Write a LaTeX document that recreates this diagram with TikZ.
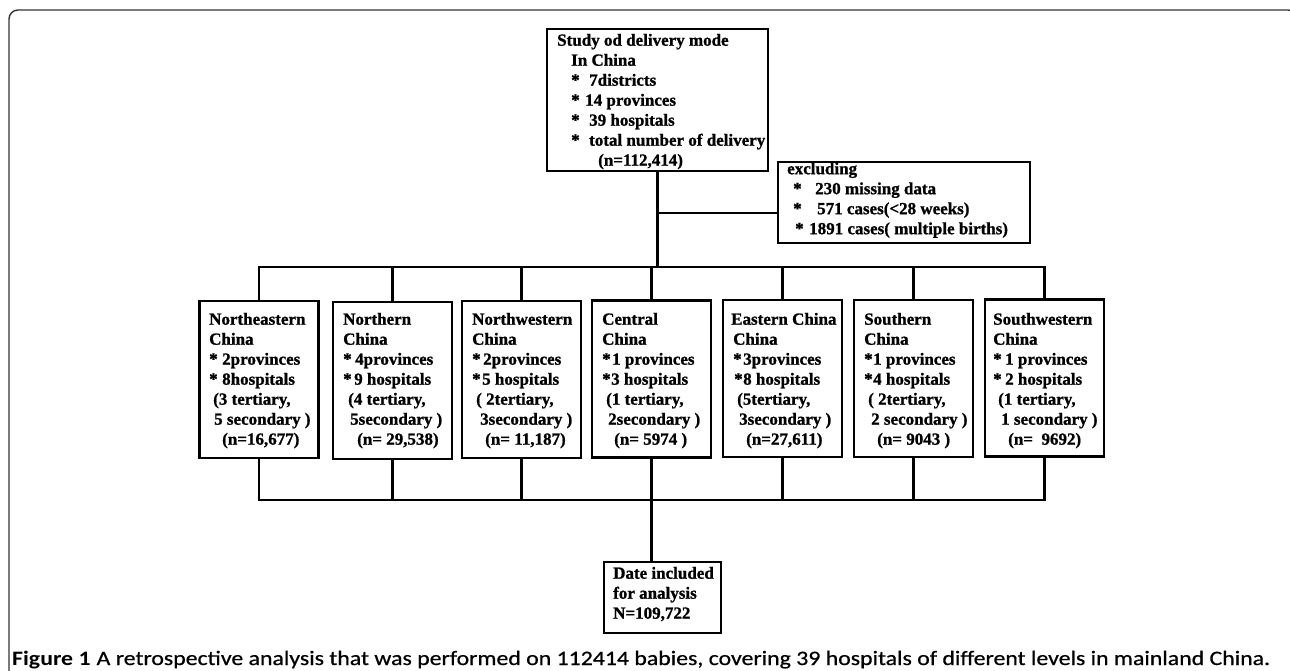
\documentclass[tikz,border=0pt]{standalone}
\usepackage{fontspec}
\setmainfont{Liberation Serif}[BoldFeatures={FakeBold=1}]
\newfontfamily\capfont[FakeBold=0.6]{Carlito}
\newfontfamily\capfontb{Carlito}
\newcommand\st[1]{\makebox[#1pt][l]{*}}
\newcommand\ind[1]{\hspace*{#1pt}}
\newcommand\fl{\rule{0pt}{14pt}}
\begin{document}
\begin{tikzpicture}[x=1pt,y=-1pt,
  bx/.style={draw,line width=2.6pt,inner sep=0pt,anchor=center},
  rbox/.style={bx,minimum width=119pt,minimum height=157pt},
  txt/.style={anchor=north west,align=left,inner sep=0pt,font=\fontsize{17}{20}\selectfont\bfseries},
  ln/.style={line width=2.6pt,line join=miter},
  frame/.style={draw=black!80,line width=1.4pt,rounded corners=9pt}
]
\useasboundingbox (0,0) rectangle (1290,671);
% outer frame
\draw[frame] (9,690) -- (9,10) -- (1297,10) -- (1297,690);

% boxes
\node[bx,minimum width=221pt,minimum height=142pt] (top) at (657.5,100) {};
\node[bx,minimum width=252pt,minimum height=81pt] (excl) at (904,202.5) {};
\node[rbox] (b1) at (259,379.5) {};
\node[rbox] (b2) at (392.5,380.5) {};
\node[rbox] (b3) at (521.5,379.5) {};
\node[rbox] (b4) at (651.5,379) {};
\node[rbox] (b5) at (782.5,378.5) {};
\node[rbox] (b6) at (913.5,378.5) {};
\node[rbox] (b7) at (1044.5,378) {};
\node[bx,minimum width=117pt,minimum height=71pt] (fin) at (662.5,597.5) {};

% texts
\node[txt] (ttop) at (557,31.5) {\fl Study od delivery mode\\
\ind{14}In China\\
\ind{14}\st{18}7districts\\
\ind{14}\st{14}14 provinces\\
\ind{14}\st{18}39 hospitals\\
\ind{14}\st{18}total number of delivery\\
\ind{41}(n=112,414)};

\node[txt] (texcl) at (787,160) {\fl excluding\\
\ind{6}\st{22}230 missing data\\
\ind{6}\st{24}571 cases(<28 weeks)\\
\ind{8}\st{14}1891 cases( multiple births)};

\node[txt] (t1) at (209,310.5) {\fl Northeastern\\China\\
\st{13}2provinces\\
\st{13}8hospitals\\
\ind{4}(3 tertiary,\\
\ind{5}5 secondary )\\
\ind{13}(n=16,677)};

\node[txt] (t2) at (343,310.5) {\fl Northern\\China\\
\st{12}4provinces\\
\st{11}9 hospitals\\
\ind{5}(4 tertiary,\\
\ind{7}5secondary )\\
\ind{14}(n= 29,538)};

\node[txt] (t3) at (472,310.5) {\fl Northwestern\\China\\
\st{11}2provinces\\
\st{10}5 hospitals\\
\ind{4}( 2tertiary,\\
\ind{8}3secondary )\\
\ind{13}(n= 11,187)};

\node[txt] (t4) at (602,310.5) {\fl Central\\China\\
\st{10}1 provinces\\
\st{9}3 hospitals\\
\ind{4}(1 tertiary,\\
\ind{6}2secondary )\\
\ind{12}(n= 5974 )};

\node[txt] (t5) at (731,310.5) {\fl Eastern China\\\ind{2}China\\
\ind{2}\st{10}3provinces\\
\ind{3}\st{9}8 hospitals\\
\ind{6}(5tertiary,\\
\ind{8}3secondary )\\
\ind{15}(n=27,611)};

\node[txt] (t6) at (864,310.5) {\fl Southern\\China\\
\st{9}1 provinces\\
\st{9}4 hospitals\\
\ind{4}( 2tertiary,\\
\ind{7}2 secondary )\\
\ind{13}(n= 9043 )};

\node[txt] (t7) at (993,310.5) {\fl Southwestern\\China\\
\st{12}1 provinces\\
\st{12}2 hospitals\\
\ind{5}(1 tertiary,\\
\ind{8}1 secondary )\\
\ind{15}(n=\ \ 9692)};

\node[txt] (tfin) at (613,564.5) {\fl Date included\\for analysis\\N=109,722};

% connectors
\coordinate (bus) at (0,267);
\coordinate (bbus) at (0,500);
\coordinate (exj) at (657.5,213);
\draw[ln] (top.south) -- (top.south |- bus);
\draw[ln] (exj) -- (exj -| excl.west);
\draw[ln] (b1.north) -- (b1.north |- bus) -- (b7.north |- bus) -- (b7.north);
\foreach \b in {b2,b3,b4,b5,b6} \draw[ln] (\b.north) -- (\b.north |- bus);
\draw[ln] (b1.south) -- (b1.south |- bbus) -- (b7.south |- bbus) -- (b7.south);
\foreach \b in {b2,b3,b4,b5,b6} \draw[ln] (\b.south) -- (\b.south |- bbus);
\draw[ln] (b4.south |- bbus) -- (b4.south |- fin.north);

% caption
\node[anchor=base west,inner sep=0pt] (cap) at (12,665) {\fontsize{20.5}{24}\selectfont\resizebox{1258pt}{\height}{{\capfontb\bfseries Figure 1} {\capfont A retrospective analysis that was performed on 112414 babies, covering 39 hospitals of different levels in mainland China.}}};
\end{tikzpicture}
\end{document}
